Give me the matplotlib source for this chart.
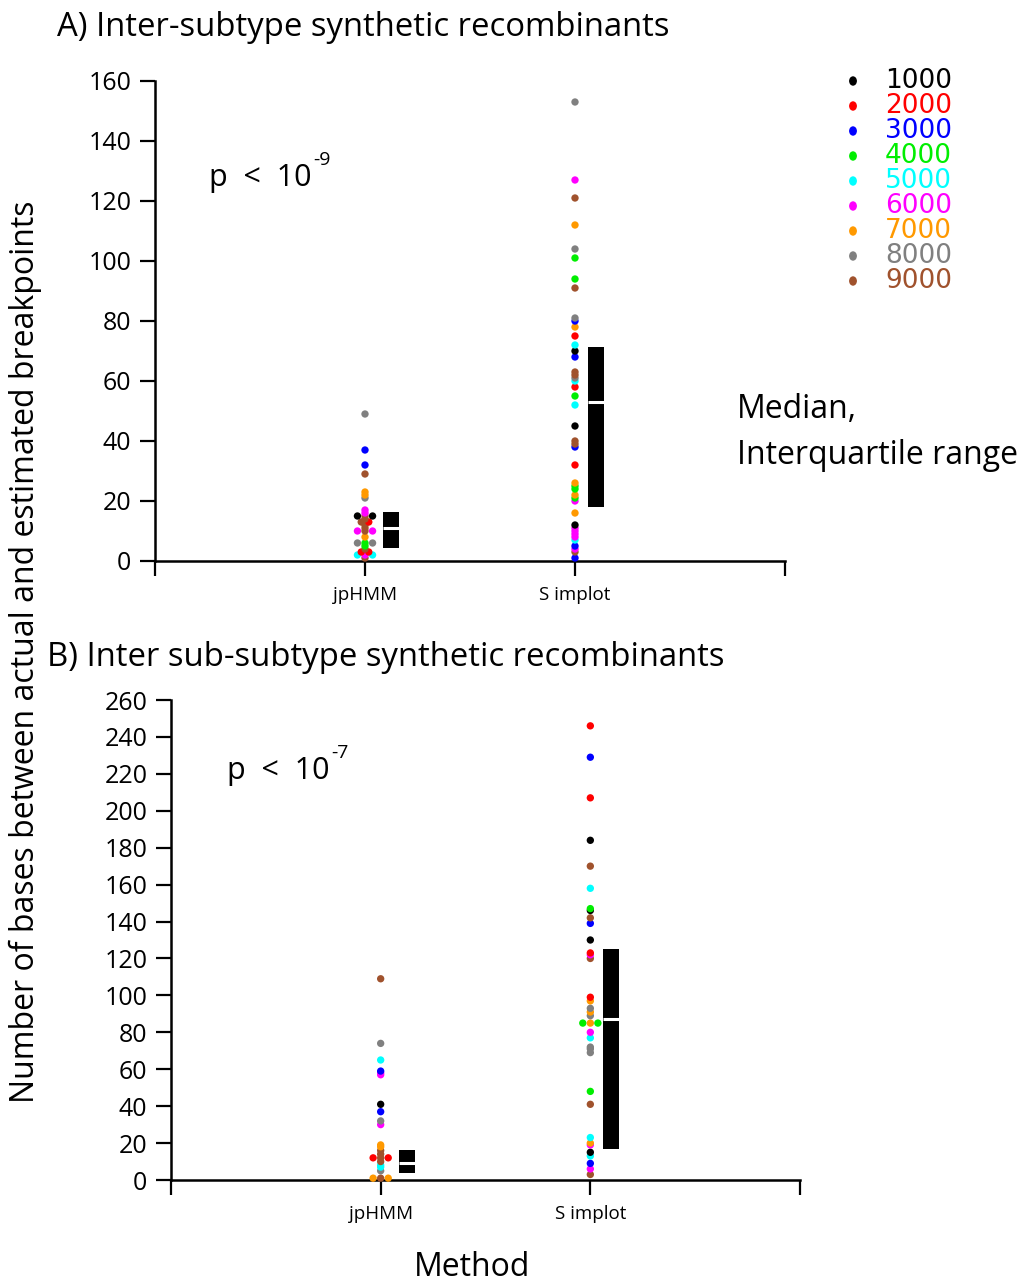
import matplotlib
matplotlib.use("Agg")
import matplotlib.pyplot as plt
import numpy as np

# ---------------- data ----------------
legend_labels = ["1000", "2000", "3000", "4000", "5000", "6000", "7000", "8000", "9000"]
legend_colors = ["#000000", "#ff0000", "#0000ff", "#00ee00", "#00ffff", "#ff00ff",
                 "#ff9900", "#808080", "#a0522d"]
methods = ["jpHMM", "S implot"]

# Panel A: (value, group label)
a_jphmm_vals = [49, 37, 32, 29, 23, 22, 21, 17, 16, 15, 15, 15, 14, 13, 13, 12, 11,
                10, 10, 10, 8, 6, 6, 6, 5, 4, 3, 3, 2, 2, 2, 1]
a_jphmm_grp = ["8000", "3000", "3000", "9000", "7000", "7000", "8000", "6000", "6000",
               "1000", "9000", "1000", "9000", "9000", "2000", "9000", "9000",
               "6000", "9000", "6000", "7000", "8000", "4000", "8000", "4000", "9000",
               "2000", "2000", "5000", "6000", "5000", "9000"]
a_simplot_vals = [153, 127, 121, 112, 104, 101, 94, 91, 81, 80, 78, 75, 72, 70, 68, 63,
                  62, 61, 60, 58, 55, 52, 45, 40, 39, 38, 32, 26, 25, 24, 22, 21, 20,
                  16, 12, 11, 10, 9, 8, 7, 5, 4, 3, 1]
a_simplot_grp = ["8000", "6000", "9000", "7000", "8000", "4000", "4000", "9000", "8000",
                 "3000", "7000", "2000", "5000", "1000", "3000", "9000", "9000", "8000",
                 "5000", "2000", "4000", "5000", "1000", "9000", "9000", "3000", "2000",
                 "7000", "4000", "4000", "7000", "4000", "6000", "7000", "1000", "6000",
                 "6000", "6000", "6000", "5000", "3000", "6000", "9000", "3000"]

# Panel B
b_jphmm_vals = [109, 74, 65, 59, 58, 57, 41, 37, 32, 30, 19, 18, 16, 14, 12, 12, 12,
                10, 8, 7, 5, 1, 1, 1]
b_jphmm_grp = ["9000", "8000", "5000", "3000", "6000", "6000", "1000", "3000", "8000",
               "6000", "7000", "7000", "9000", "9000", "2000", "9000", "2000", "9000",
               "5000", "5000", "8000", "7000", "9000", "7000"]
b_simplot_vals = [246, 229, 207, 184, 170, 158, 147, 146, 142, 139, 130, 123, 122, 120,
                  99, 97, 93, 91, 89, 85, 85, 85, 80, 77, 72, 71, 69, 48, 41, 23, 20,
                  19, 15, 13, 9, 6, 3]
b_simplot_grp = ["2000", "3000", "2000", "1000", "9000", "5000", "4000", "1000", "9000",
                 "3000", "1000", "2000", "6000", "9000", "2000", "7000", "8000", "7000",
                 "8000", "4000", "7000", "4000", "6000", "5000", "8000", "8000", "8000",
                 "4000", "9000", "5000", "7000", "6000", "1000", "5000", "3000", "6000",
                 "9000"]

# Median and interquartile range per method
a_q1 = [4.5, 18]
a_median = [11, 53]
a_q3 = [16.5, 71.5]
b_q1 = [4, 17]
b_median = [9, 87]
b_q3 = [16.5, 125]

a_yticks = list(range(0, 161, 20))
b_yticks = list(range(0, 261, 20))

p_texts = ["p < 10", "p < 10"]
p_exps = ["-9", "-7"]

# ---------------- figure ----------------
W, H = 1025, 1284
fig = plt.figure(figsize=(W / 100, H / 100), dpi=100)
FONT = ["Open Sans", "DejaVu Sans"]
plt.rcParams["font.family"] = FONT

color_of = dict(zip(legend_labels, legend_colors))


def axes_px(l, r, t, b):
    return fig.add_axes([l / W, 1 - b / H, (r - l) / W, (b - t) / H])


def draw_panel(ax, groups, ymax, yticks, q1, med, q3):
    # dots; identical values are spread side by side
    for xi, (vals, grps) in enumerate(groups, start=1):
        vals = np.array(vals)
        for v in np.unique(vals):
            idx = np.where(vals == v)[0]
            n = len(idx)
            offs = (np.arange(n) - (n - 1) / 2) * 0.036
            for k, i in enumerate(idx):
                ax.scatter(xi + offs[k], vals[i], s=28, color=color_of[grps[i]],
                           edgecolors="none", zorder=3, clip_on=False)
    # median / IQR boxes
    bx = np.arange(1, len(q1) + 1) + np.array([0.125, 0.1])
    w = 0.075
    ax.bar(bx, np.array(q3) - np.array(q1), bottom=q1, width=w, color="black",
           zorder=2)
    ax.hlines(med, bx - w / 2, bx + w / 2, color="white", lw=2.2, zorder=4)
    ax.set_xlim(0, 3)
    ax.set_ylim(0, ymax)
    ax.set_yticks(yticks)
    ax.set_xticks([0, 1, 2, 3])
    ax.set_xticklabels(["", methods[0], methods[1], ""], fontsize=13.5)
    ax.tick_params(axis="y", direction="out", length=11, width=1.6, labelsize=18,
                   pad=6)
    ax.tick_params(axis="x", direction="out", length=11, width=1.6, pad=7)
    for s in ["top", "right"]:
        ax.spines[s].set_visible(False)
    for s in ["left", "bottom"]:
        ax.spines[s].set_linewidth(1.8)


axA = axes_px(155, 785, 81, 561)
draw_panel(axA, [(a_jphmm_vals, a_jphmm_grp), (a_simplot_vals, a_simplot_grp)],
           160, a_yticks, a_q1, a_median, a_q3)
axB = axes_px(171, 800, 700, 1180)
draw_panel(axB, [(b_jphmm_vals, b_jphmm_grp), (b_simplot_vals, b_simplot_grp)],
           260, b_yticks, b_q1, b_median, b_q3)

# titles and labels
fig.text(57 / W, 1 - 27 / H, "A) Inter-subtype synthetic recombinants",
         fontsize=23.7, ha="left", va="center")
fig.text(47 / W, 1 - 658 / H, "B) Inter sub-subtype synthetic recombinants",
         fontsize=23.7, ha="left", va="center")
fig.text(25 / W, 1 - 652 / H,
         "Number of bases between actual and estimated breakpoints",
         fontsize=23, rotation=90, ha="center", va="center")
fig.text(472 / W, 1 - 1268 / H, "Method", fontsize=23, ha="center", va="center")

# p-value annotations (base text + superscript with hyphen right after it)
renderer = fig.canvas.get_renderer()
for (px, py), base, ex in zip([(209, 178), (227, 771)], p_texts, p_exps):
    t = fig.text(px / W, 1 - py / H, base.replace(" < ", "  <  "), fontsize=22,
                 ha="left", va="center")
    bb = t.get_window_extent(renderer=renderer)
    fig.text((bb.x1 + 2) / W, 1 - (py - 18) / H, ex, fontsize=14, ha="left",
             va="center")

fig.text(737 / W, 1 - 410 / H, "Median,", fontsize=23, ha="left", va="center")
fig.text(737 / W, 1 - 455 / H, "Interquartile range", fontsize=23, ha="left",
         va="center")

# legend
for i, (lab, col) in enumerate(zip(legend_labels, legend_colors)):
    y = 1 - (81 + i * 25.0) / H
    fig.patches.append(plt.Circle((853 / W, y), 3.2 / W, color=col,
                                  transform=fig.transFigure, figure=fig))
    fig.text(885 / W, y, lab, color=col, fontsize=19, ha="left", va="center",
             family="DejaVu Sans")

fig.savefig("out.png", dpi=100, facecolor="white")
